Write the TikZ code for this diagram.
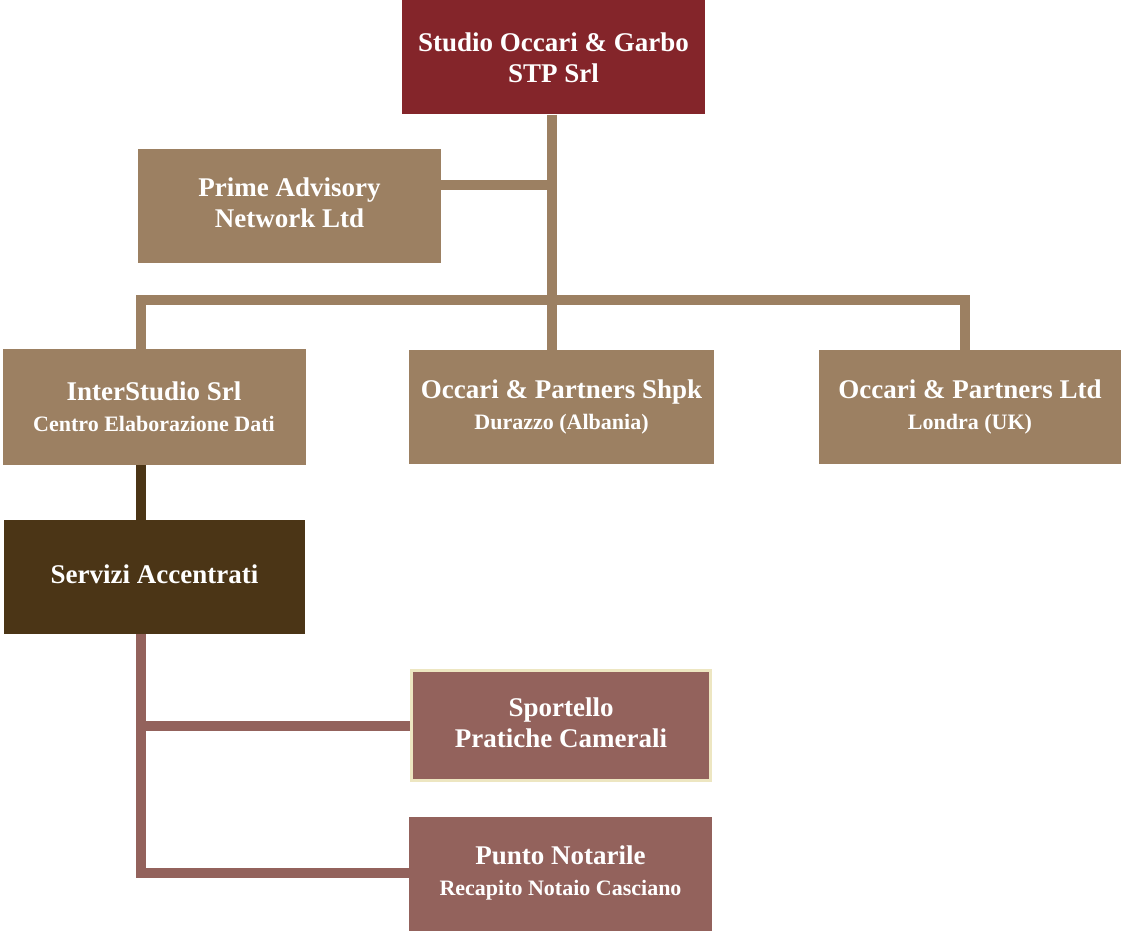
\documentclass[tikz,border=0pt]{standalone}
\usepackage{fontspec}
\setmainfont{Liberation Serif}
\usetikzlibrary{positioning}
\definecolor{headred}{HTML}{84252A}
\definecolor{tan}{HTML}{9C8062}
\definecolor{darkbrown}{HTML}{4B3516}
\definecolor{rose}{HTML}{93625C}
\definecolor{cream}{HTML}{EDE6C1}
\newcommand{\subline}[1]{{\fontsize{22}{31}\selectfont #1}}
\newcommand{\lifted}[2]{\raisebox{#1}{\begin{tabular}{@{}c@{}}#2\end{tabular}}}
\tikzset{
  box/.style={rectangle, inner sep=0pt, minimum width=303pt, minimum height=114pt,
    align=center, text=white, font=\bfseries\fontsize{27}{31}\selectfont},
  link/.style={line width=10pt, line join=miter}
}
\begin{document}
\begin{tikzpicture}[x=1pt, y=1pt]
  \useasboundingbox (0,0) rectangle (1121,-931);
         \node[box, fill=headred] (top) at (553.5,-57.5) {Studio Occari \& Garbo\\STP Srl};
         \node[box, fill=tan] (prime) at (289.5,-206) {\lifted{5pt}{Prime Advisory\\Network Ltd}};
         \node[box, fill=tan, minimum height=116pt] (inter) at (154,-407) {InterStudio Srl\\\subline{Centro Elaborazione Dati}};
         \node[box, fill=tan, minimum width=305pt] (shpk) at (561.5,-407) {Occari \& Partners Shpk\\\subline{Durazzo (Albania)}};
         \node[box, fill=tan, minimum width=302pt] (ltd) at (970,-407) {Occari \& Partners Ltd\\\subline{Londra (UK)}};
         \node[box, fill=darkbrown, minimum width=301pt] (serv) at (154.5,-577) {\raisebox{5pt}{Servizi Accentrati}};
         \node[box, fill=rose, draw=cream, line width=3pt, minimum width=299pt, minimum height=110pt] (sport) at (561,-725.5) {\lifted{2pt}{Sportello\\Pratiche Camerali}};
         \node[box, fill=rose] (punto) at (560.5,-874) {\lifted{4pt}{Punto Notarile\\\subline{Recapito Notaio Casciano}}};
         % connectors
         \coordinate (J) at (552,-300);
         \coordinate (BL) at (141,-300);
         \coordinate (BR) at (965,-300);
         \coordinate (S) at (141,-873);
         \draw [link, tan] (top.south -| J) -- (J |- shpk.north);
         \draw [link, tan] (prime.east |- 0,-185) -- (J |- 0,-185);
         \draw [link, tan] (inter.north -| BL) -- (BL) -- (BR) -- (BR |- ltd.north);
         \draw [link, darkbrown] (inter.south -| BL) -- (serv.north -| BL);
         \draw [link, rose] (serv.south -| S) -- (S) -- (S -| punto.west);
         \draw [link, rose] (sport.west -| S) -- (sport.west);
\end{tikzpicture}
\end{document}
